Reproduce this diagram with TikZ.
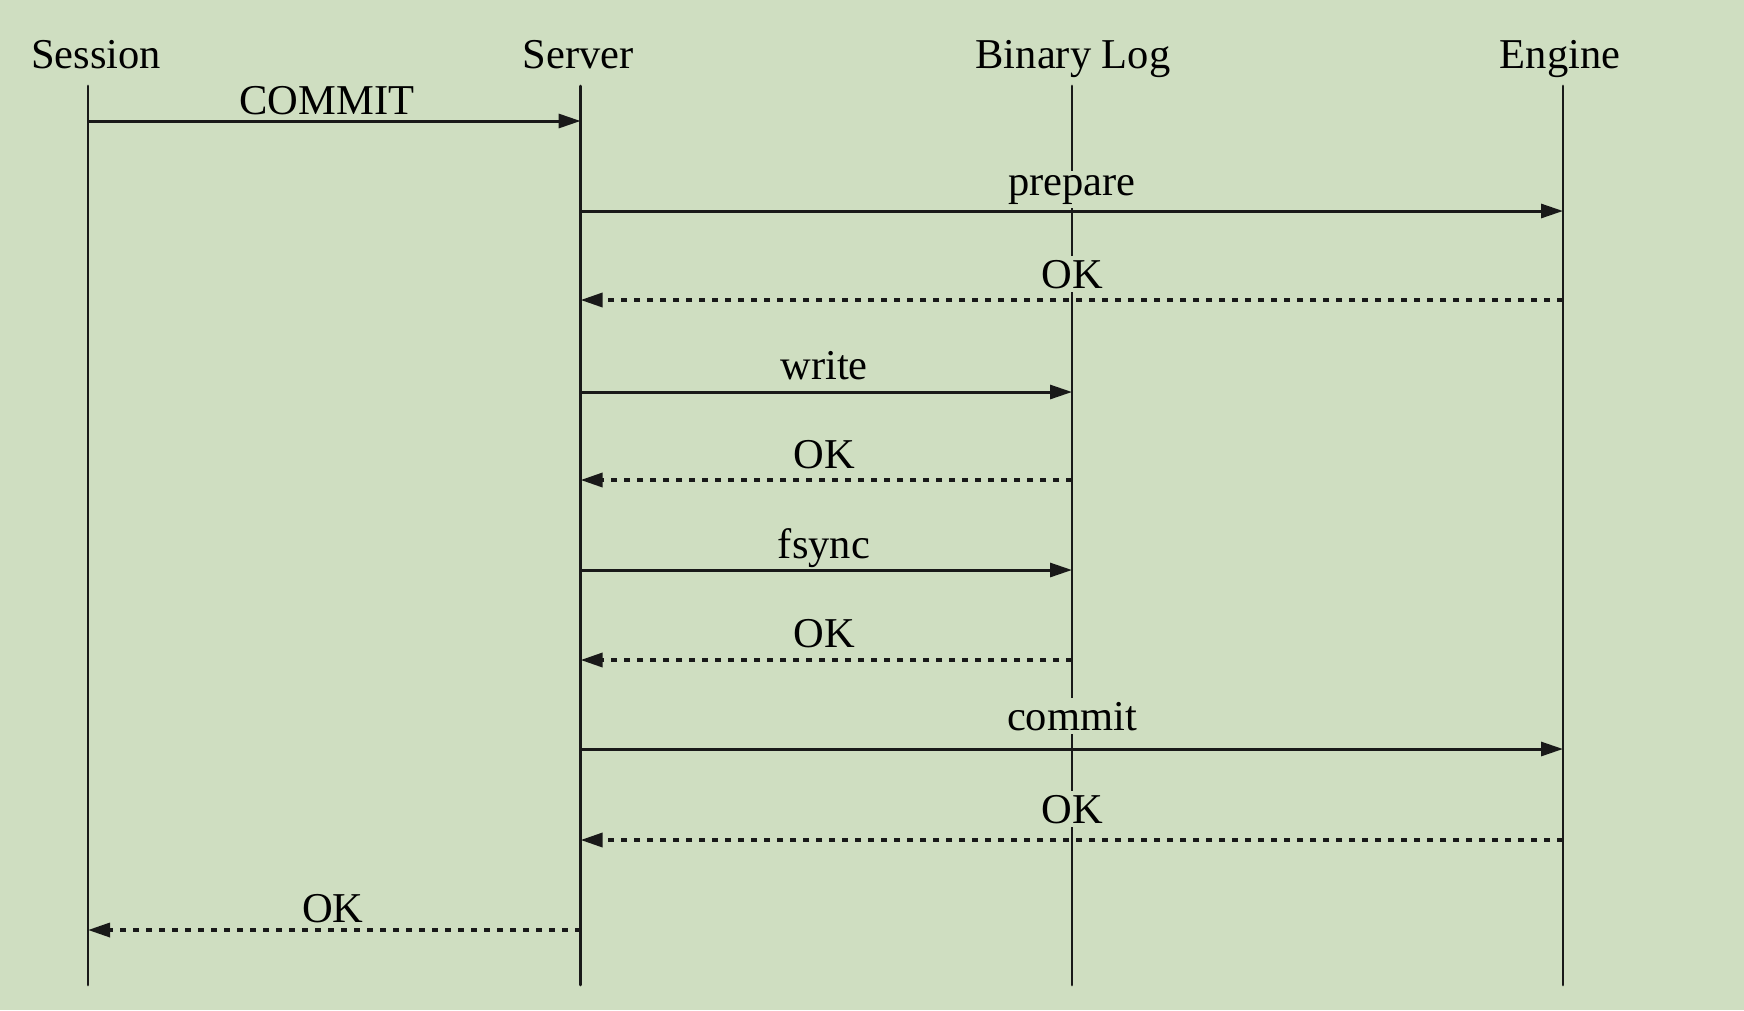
\documentclass[tikz,border=0pt]{standalone}
\usepackage{fontspec}
\setmainfont{Liberation Serif}
\usetikzlibrary{arrows.meta}
\definecolor{bg}{RGB}{207,222,193}
\begin{document}
\begin{tikzpicture}[x=1pt,y=-1pt,
  life/.style={line width=2.8pt, line cap=round, black!90},
  msg/.style={line width=3pt, black!90, -{Triangle[length=22pt,width=14pt]}},
  reply/.style={msg, line width=3.4pt, dash pattern=on 6pt off 7pt},
  lbl/.style={font=\fontsize{42.5}{50}\selectfont, anchor=base, fill=bg, inner sep=4pt},
  head/.style={font=\fontsize{42.5}{50}\selectfont, anchor=base, inner sep=0pt}]
\fill[bg] (0,0) rectangle (1744,1010);
\useasboundingbox (0,0) rectangle (1744,1010);

% headers
\node[head] (hSes) at (96,68) {Session};
\node[head] (hSrv) at (578,68) {Server};
\node[head] (hBin) at (1073,68) {Binary Log};
\node[head] (hEng) at (1560,68) {Engine};

% lifelines
\coordinate (sesT) at (88,86);    \coordinate (sesB) at (88,985);
\coordinate (srvT) at (580.6,86); \coordinate (srvB) at (580.6,985);
\coordinate (binT) at (1072,86);  \coordinate (binB) at (1072,985);
\coordinate (engT) at (1563,86);  \coordinate (engB) at (1563,985);
\draw[life] (sesT) -- (sesB);
\draw[life] (srvT) -- (srvB);
\draw[life] (binT) -- (binB);
\draw[life] (engT) -- (engB);

% message rows
\coordinate (r1) at (0,121);
\coordinate (r2) at (0,211);
\coordinate (r3) at (0,300);
\coordinate (r4) at (0,392);
\coordinate (r5) at (0,480);
\coordinate (r6) at (0,570);
\coordinate (r7) at (0,660);
\coordinate (r8) at (0,749);
\coordinate (r9) at (0,840);
\coordinate (r10) at (0,930);

% labels
\node[lbl] (l1) at (327,114) {COMMIT};
\node[lbl] (l2) at (1072,195) {prepare};
\node[lbl] (l3) at (1072,288) {OK};
\node[lbl] (l4) at (824,379) {write};
\node[lbl] (l5) at (824,468) {OK};
\node[lbl] (l6) at (824,558) {fsync};
\node[lbl] (l7) at (824,647) {OK};
\node[lbl] (l8) at (1072,730) {commit};
\node[lbl] (l9) at (1072,823) {OK};
\node[lbl] (l10) at (333,922) {OK};

% arrows
\draw[msg] (sesT |- r1) -- (srvT |- r1);
\draw[msg] (srvT |- r2) -- (engT |- r2);
\draw[reply] (engT |- r3) -- (srvT |- r3);
\draw[msg] (srvT |- r4) -- (binT |- r4);
\draw[reply] (binT |- r5) -- (srvT |- r5);
\draw[msg] (srvT |- r6) -- (binT |- r6);
\draw[reply] (binT |- r7) -- (srvT |- r7);
\draw[msg] (srvT |- r8) -- (engT |- r8);
\draw[reply] (engT |- r9) -- (srvT |- r9);
\draw[reply] (srvT |- r10) -- (sesT |- r10);
\end{tikzpicture}
\end{document}
